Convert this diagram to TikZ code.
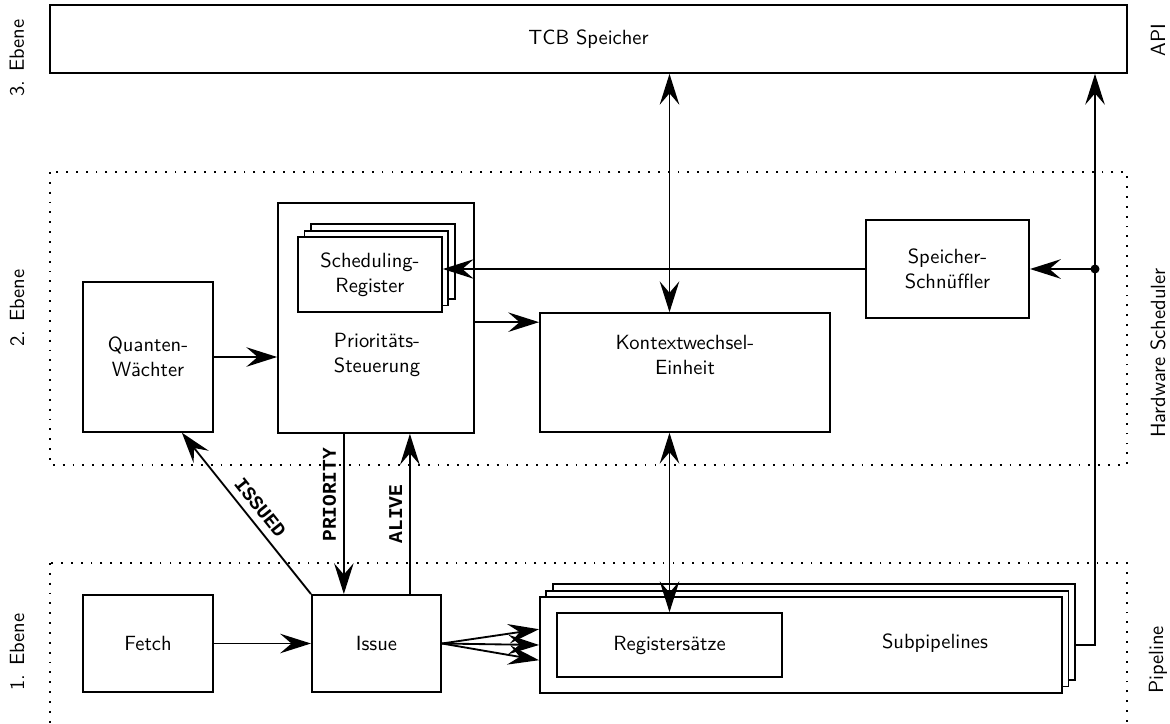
\documentclass[tikz,border=0pt]{standalone}
\usepackage{fontspec}
\newfontfamily\signalfont{Liberation Mono}
\usetikzlibrary{arrows.meta, positioning, shadows, backgrounds}

\begin{document}
\begin{tikzpicture}[
  x=0.0171cm, y=-0.0171cm,
  every node/.style={font=\sffamily, align=center},
  box/.style={draw, line width=0.9pt, fill=white, inner sep=2pt},
  stack/.style={box, double copy shadow={shadow xshift=0.11cm, shadow yshift=0.11cm}},
  level/.style={line width=1pt, dash pattern=on 0.9pt off 3.9pt},
  side/.style={rotate=90},
  signal/.style={font={\signalfont\bfseries\fontsize{9.5}{11}\selectfont}},
  arr/.style={line width=0.9pt, -{Stealth[length=15pt, width=9.5pt, inset=5.5pt]}},
  biarr/.style={line width=0.9pt, {Stealth[length=15pt, width=9.5pt, inset=5.5pt]}-{Stealth[length=15pt, width=9.5pt, inset=5.5pt]}}
]
\useasboundingbox (0,0) rectangle (1170,724);

% Ebenen
\draw[level] (50,172) rectangle (1127,465);
\draw[level] (50,563) rectangle (1127,745);

\node[side] (ebene3) at (17,58) {3. Ebene};
\node[side] (ebene2) at (17,308) {2. Ebene};
\node[side] (ebene1) at (17,652) {1. Ebene};
\node[side] (api) at (1158,40) {API};
\node[side] (hws) at (1158,353) {Hardware Scheduler};
\node[side] (pipe) at (1158,660) {Pipeline};

% Ebene 3 -- API
\node[box, minimum width=18.42cm, minimum height=1.16cm] (tcb) at (588.5,39) {TCB Speicher};

% Ebene 2 -- Hardware Scheduler
\node[box, minimum width=2.22cm, minimum height=2.56cm] (quanten) at (148,357) {Quanten-\\Wächter};
\node[box, minimum width=3.35cm, minimum height=3.93cm] (prio) at (376,318) {};
\node (priotext) at (377,355) {Prioritäts-\\Steuerung};
\node[stack, minimum width=2.46cm, minimum height=1.28cm] (sched) at (370,274.5) {Scheduling-\\Register};
\node[box, minimum width=4.96cm, minimum height=2.03cm] (kontext) at (685,372.5) {};
\node (kontexttext) at (685,355) {Kontextwechsel-\\Einheit};
\node[box, minimum width=2.79cm, minimum height=1.68cm] (snoop) at (947.5,269) {Speicher-\\Schnüffler};
\coordinate (tap) at (1095,269);

% Ebene 1 -- Pipeline
\node[box, minimum width=2.22cm, minimum height=1.66cm] (fetch) at (148,643.5) {Fetch};
\node[box, minimum width=2.21cm, minimum height=1.66cm] (issue) at (376.5,643.5) {Issue};
\node[stack, minimum width=8.93cm, minimum height=1.64cm] (sub) at (801,645) {};
\node (subtext) at (935,643) {Subpipelines};
\node[box, minimum width=3.85cm, minimum height=1.09cm] (regs) at (669.5,645) {Registersätze};

% Kanten: Pipeline
\draw[arr] (fetch) -- (issue);
\draw[arr] (issue.east) -- ([yshift=0.27cm]sub.west);
\draw[arr] (issue.east) -- (sub.west);
\draw[arr] (issue.east) -- ([yshift=-0.26cm]sub.west);

% Kanten: Scheduler
\coordinate (ctxin) at ([yshift=-0.17cm]kontext.north west);
\draw[arr] (quanten) -- (quanten -| prio.west);
\draw[arr] (ctxin -| prio.east) -- (ctxin);
\draw[arr] (snoop.west) -- (snoop.west -| sched.east);
\draw[arr] (tap) -- (snoop.east);
\fill (tap) circle (2.2pt);

% Kanten: zwischen den Ebenen
\draw[biarr] (regs.north |- tcb.south) -- (regs.north |- kontext.north);
\draw[biarr] (kontext.south -| regs.north) -- (regs.north);
\begin{scope}[on background layer]
  \draw[arr] (sub.east) -- (sub.east -| tap) -- (tap |- tcb.south);
\end{scope}

\coordinate (prioout) at ([xshift=-0.55cm]prio.south);
\coordinate (alivein) at ([xshift=0.58cm]prio.south);
\draw[arr] (prioout) -- (prioout |- issue.north)
  node[signal, pos=0.38, rotate=90, anchor=south] {PRIORITY};
\draw[arr] (alivein |- issue.north) -- (alivein)
  node[signal, pos=0.5, rotate=90, anchor=south] {ALIVE};
\draw[arr] (issue.north west) -- ([xshift=0.58cm]quanten.south)
  node[signal, pos=0.48, sloped, above] {ISSUED};

\end{tikzpicture}
\end{document}
